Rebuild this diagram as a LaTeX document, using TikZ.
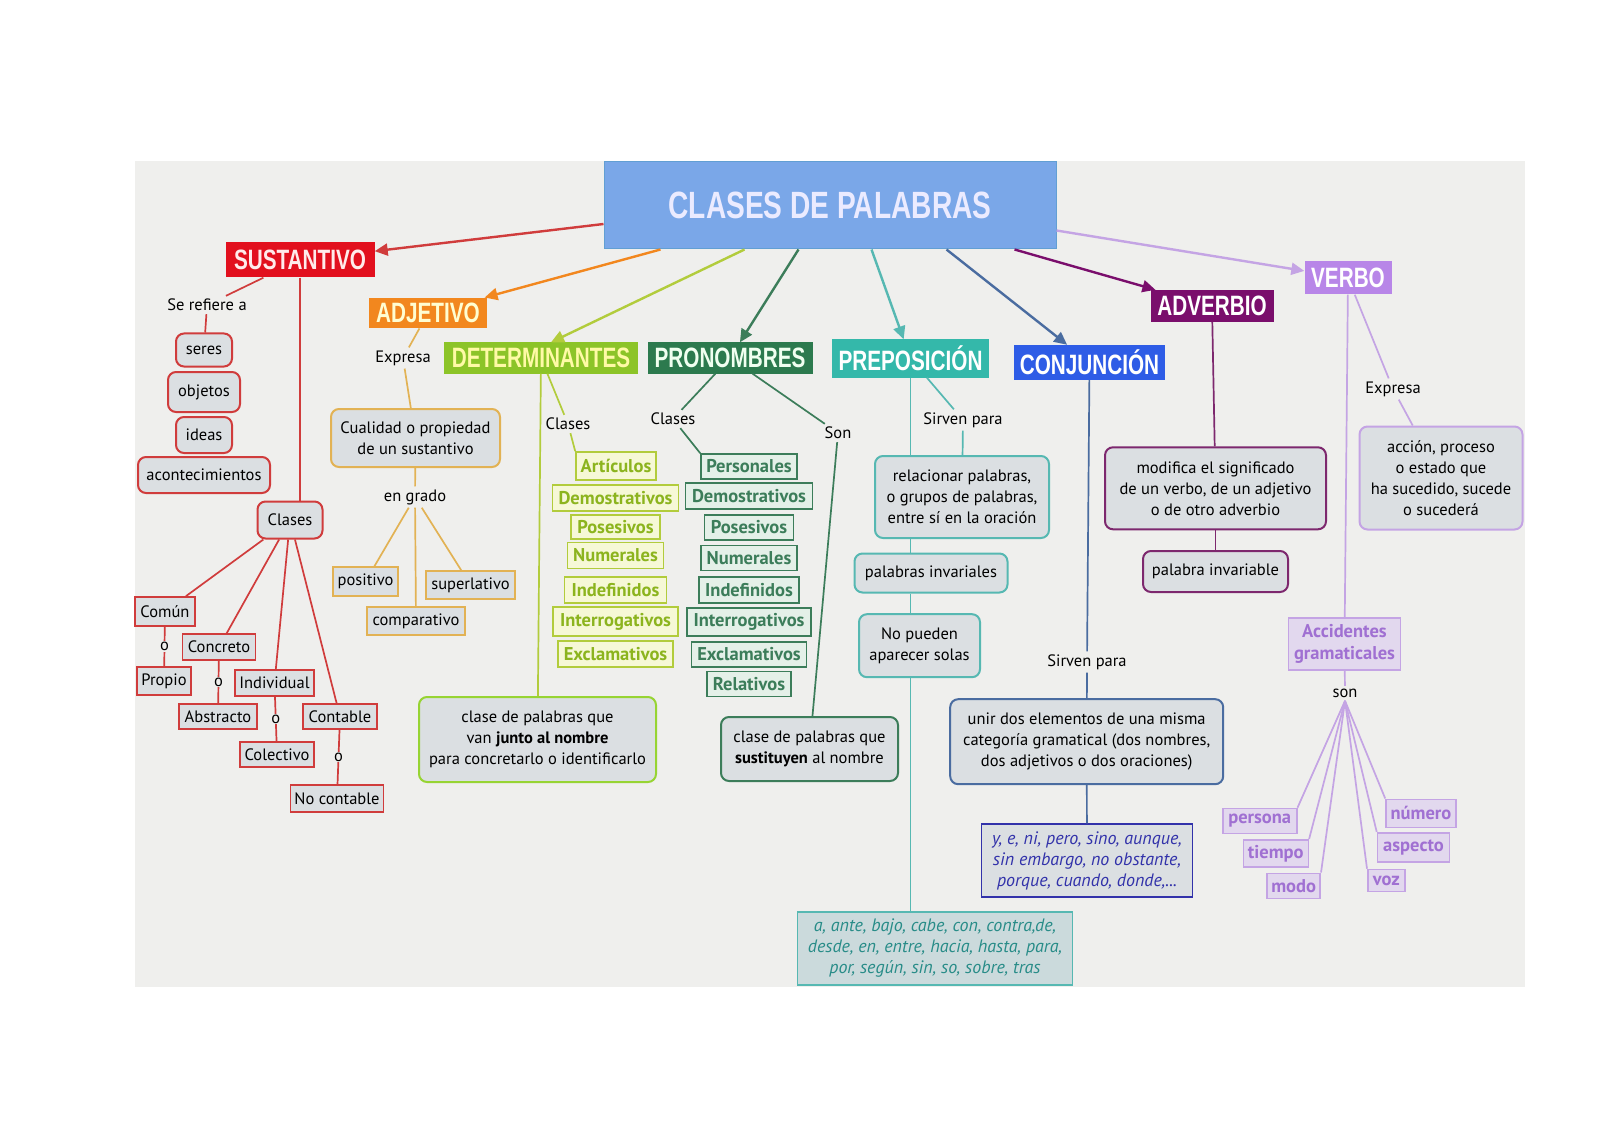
\documentclass[tikz,border=0pt]{standalone}
\usepackage{fontspec}
\setmainfont{PT Sans}
\newfontfamily\headfont[FakeStretch=0.74]{Liberation Sans}
\usetikzlibrary{arrows.meta}
\definecolor{bgpanel}{RGB}{239,239,237}
\definecolor{boxgray}{RGB}{219,223,226}
\definecolor{titleblue}{RGB}{122,167,232}
\definecolor{sustred}{RGB}{226,16,30}
\definecolor{sustline}{RGB}{208,60,60}
\definecolor{adjorange}{RGB}{242,135,30}
\definecolor{adjline}{RGB}{226,178,84}
\definecolor{detgreen}{RGB}{140,196,40}
\definecolor{detline}{RGB}{178,204,60}
\definecolor{detleaf}{RGB}{246,248,214}
\definecolor{dettext}{RGB}{140,180,30}
\definecolor{progreen}{RGB}{44,122,78}
\definecolor{proline}{RGB}{60,125,90}
\definecolor{proleaf}{RGB}{228,240,232}
\definecolor{preteal}{RGB}{52,184,170}
\definecolor{preline}{RGB}{86,184,178}
\definecolor{pretext}{RGB}{40,140,136}
\definecolor{conjblue}{RGB}{46,92,230}
\definecolor{conjline}{RGB}{74,108,160}
\definecolor{conjtext}{RGB}{50,50,170}
\definecolor{advpurple}{RGB}{122,14,108}
\definecolor{advline}{RGB}{125,40,110}
\definecolor{verblila}{RGB}{184,134,232}
\definecolor{verbline}{RGB}{196,164,228}
\definecolor{verbtext}{RGB}{160,112,210}
\definecolor{verbleaf}{RGB}{226,216,238}
\tikzset{every node/.append style={font=\fontsize{16.5}{21}\selectfont}}
\tikzset{
  sz/.style 2 args={minimum width=#1pt, minimum height=#2pt},
  cat/.style={fill=#1, text=white, inner xsep=6pt, inner ysep=0pt,
    font=\headfont\bfseries\fontsize{28}{30}\selectfont},
  bubble/.style={draw=#1, fill=boxgray, line width=2pt, rounded corners=8pt,
    align=center, inner sep=2pt},
  tag/.style={draw=#1, fill=boxgray, line width=1.6pt, inner sep=2pt},
  kind/.style={draw=#1, line width=1.6pt, inner sep=2pt,
    font=\fontsize{18.5}{22}\selectfont\bfseries},
  list/.style={draw=#1, text=#1, line width=1.6pt, inner sep=2pt, align=center,
    font=\fontsize{18}{21}\selectfont\itshape},
  lbl/.style={inner sep=3pt},
  link/.style={draw=#1, line width=1.7pt},
  arr/.style={draw=#1, line width=2.4pt, -{Triangle[length=13pt,width=12pt]}},
  orl/.style={fill=bgpanel, inner sep=1pt}
}

\begin{document}
\begin{tikzpicture}[x=1pt,y=-1pt]
  \useasboundingbox (0,0) rectangle (1600,1131);
  \fill[bgpanel] (135,161) rectangle (1525,987);

  \node[draw=titleblue!80!teal, fill=titleblue, line width=1pt, text=white!92!blue,
    sz={452}{87}, font=\headfont\bfseries\fontsize{38}{40}\selectfont] (title) at (830,205.5)
    {CLASES DE PALABRAS};

  \node[cat=sustred, text=red!8, sz={149}{35}] (sust) at (300,260) {SUSTANTIVO};
  \node[cat=adjorange, text=yellow!18, sz={118}{30.5}] (adj) at (428,313) {ADJETIVO};
  \node[cat=detgreen, text=yellow!35, sz={194}{31}] (det) at (541,358) {DETERMINANTES};
  \node[cat=progreen, text=green!6, sz={165}{31}] (pro) at (730,358) {PRONOMBRES};
  \node[cat=preteal, sz={157}{38}] (prep) at (910.5,358.5) {PREPOSICIÓN};
  \node[cat=conjblue, sz={151}{35}] (conj) at (1089.5,362.5) {CONJUNCIÓN};
  \node[cat=advpurple, sz={123}{32}] (adv) at (1212,306) {ADVERBIO};
  \node[cat=verblila, sz={87}{33}] (verbo) at (1348,278) {VERBO};

  \draw[arr=sustline] ([yshift=-62.5pt]title.north west) -- (sust);
  \draw[arr=adjorange] ([xshift=57pt]title.south west) -- (adj);
  \draw[arr=detline] ([xshift=141pt]title.south west) -- ([xshift=10pt]det.north);
  \draw[arr=proline] ([xshift=195pt]title.south west) -- (pro);
  \draw[arr=preline] ([xshift=268pt]title.south west) -- (prep);
  \draw[arr=conjline] ([xshift=343pt]title.south west) -- (conj);
  \draw[arr=advpurple] ([xshift=411pt]title.south west) -- (adv);
  \draw[arr=verbline] ([yshift=-69pt]title.north east) -- (verbo);

  \node[lbl] (refiere) at (207,305) {Se refiere a};
  \node[bubble=sustline, sz={56}{33}] (seres) at (204,350) {seres};
  \node[bubble=sustline, sz={72}{40}] (objetos) at (204,392) {objetos};
  \node[bubble=sustline, sz={56}{36}] (ideas) at (204,435) {ideas};
  \node[bubble=sustline, sz={132}{36}] (aconte) at (204,475) {acontecimientos};
  \node[bubble=sustline, sz={65}{37}] (sclases) at (290,520) {Clases};
  \node[tag=sustline, sz={60}{29}] (comun) at (165,611.5) {Común};
  \node[tag=sustline, sz={73}{26}] (concreto) at (219,647) {Concreto};
  \node[tag=sustline, sz={79}{26}] (individual) at (274.5,683) {Individual};
  \node[tag=sustline, sz={74}{25}] (contable) at (340,716.5) {Contable};
  \node[tag=sustline, sz={54}{28}] (propio) at (164,681) {Propio};
  \node[tag=sustline, sz={78}{25}] (abstracto) at (218,716.5) {Abstracto};
  \node[tag=sustline, sz={74}{25}] (colectivo) at (277,754.5) {Colectivo};
  \node[tag=sustline, sz={93}{27}] (nocontable) at (337,798.5) {No contable};
  \draw[link=sustline] (sust) -- (refiere);
  \draw[link=sustline] (refiere) -- (seres);
  \draw[link=sustline] (sust) -- (sust |- sclases.north);
  \foreach \k in {comun,concreto,individual,contable}
    \draw[link=sustline] (sclases) -- (\k);
  \draw[link=sustline] (comun) -- node[orl]{o} (propio);
  \draw[link=sustline] (concreto) -- node[orl]{o} (abstracto);
  \draw[link=sustline] (individual) -- node[orl]{o} (colectivo);
  \draw[link=sustline] (contable) -- node[orl]{o} (nocontable);

  \node[lbl] (adjexp) at (403,358) {Expresa};
  \node[bubble=adjline, sz={169}{58}] (cualidad) at (415.5,438)
    {Cualidad o propiedad\\de un sustantivo};
  \node[lbl] (grado) at (415,497) {en grado};
  \node[tag=adjline, sz={65}{29}] (positivo) at (365.5,581.5) {positivo};
  \node[tag=adjline, sz={89}{28}] (superlativo) at (470.5,585) {superlativo};
  \node[tag=adjline, sz={98}{28}] (comparativo) at (416,621) {comparativo};
  \draw[link=adjline] (adj) -- (adjexp);
  \draw[link=adjline] (adjexp) -- (cualidad);
  \draw[link=adjline] (cualidad) -- (grado);
  \foreach \k in {positivo,comparativo,superlativo}
    \draw[link=adjline] (grado) -- (\k);

  \node[lbl] (detclases) at (568,424) {Clases};
  \node[kind=detline, fill=detleaf, text=dettext, sz={80}{28}] (dart) at (616,466) {Artículos};
  \node[kind=detline, fill=detleaf, text=dettext, sz={126}{26}] (ddem) at (615.5,498) {Demostrativos};
  \node[kind=detline, fill=detleaf, text=dettext, sz={89}{24}] (dpos) at (615.5,527) {Posesivos};
  \node[kind=detline, fill=detleaf, text=dettext, sz={96}{26}] (dnum) at (615.5,555.5) {Numerales};
  \node[kind=detline, fill=detleaf, text=dettext, sz={102}{26}] (dind) at (615.5,590) {Indefinidos};
  \node[kind=detline, fill=detleaf, text=dettext, sz={125}{29}] (dint) at (615.5,621.5) {Interrogativos};
  \node[kind=detline, fill=detleaf, text=dettext, sz={115}{26}] (dexc) at (615.5,654) {Exclamativos};
  \node[bubble=detline!85!green, sz={237}{85}] (junto) at (537.5,739.5)
    {clase de palabras que\\van \textbf{junto al nombre}\\para concretarlo o identificarlo};
  \draw[link=detline] (det) -- (detclases);
  \draw[link=detline] (detclases) -- (dart.north west);
  \draw[link=detline] (det) -- (junto);

  \node[lbl] (proclases) at (673,419) {Clases};
  \node[lbl] (proson) at (838,433) {Son};
  \node[kind=proline, fill=proleaf, text=proline, sz={96}{25}] (pper) at (749,466.5) {Personales};
  \node[kind=proline, fill=proleaf, text=proline, sz={127}{26}] (pdem) at (749,496) {Demostrativos};
  \node[kind=proline, fill=proleaf, text=proline, sz={89}{25}] (ppos) at (749,527.5) {Posesivos};
  \node[kind=proline, fill=proleaf, text=proline, sz={96}{25}] (pnum) at (749,558) {Numerales};
  \node[kind=proline, fill=proleaf, text=proline, sz={100}{26}] (pind) at (749,590) {Indefinidos};
  \node[kind=proline, fill=proleaf, text=proline, sz={124}{28}] (pint) at (749,622) {Interrogativos};
  \node[kind=proline, fill=proleaf, text=proline, sz={115}{25}] (pexc) at (749,654.5) {Exclamativos};
  \node[kind=proline, fill=proleaf, text=proline, sz={84}{25}] (prel) at (749,684) {Relativos};
  \node[bubble=proline, sz={177}{64}] (sustituyen) at (809.5,749)
    {clase de palabras que\\\textbf{sustituyen} al nombre};
  \draw[link=proline] (pro) -- (proclases);
  \draw[link=proline] (proclases) -- (pper.north west);
  \draw[link=proline] (pro) -- (proson);
  \draw[link=proline] (proson) -- (sustituyen);

  \node[lbl] (presirven) at (963,420) {Sirven para};
  \node[bubble=preline, sz={174}{82}] (relacionar) at (962,497)
    {relacionar palabras,\\o grupos de palabras,\\entre sí en la oración};
  \node[bubble=preline, sz={153}{39}] (invariales) at (931,573) {palabras invariales};
  \node[bubble=preline, sz={121}{63}] (solas) at (919.5,645.7) {No pueden\\aparecer solas};
  \node[list=pretext, draw=preline, fill=preline!12!boxgray, sz={275}{73}]
    (preplist) at (935,948.3)
    {a, ante, bajo, cabe, con, contra,de,\\desde, en, entre, hacia, hasta, para,\\por, según, sin, so, sobre, tras};
  \draw[link=preline] (prep) -- (presirven);
  \draw[link=preline] (presirven) -- (relacionar);
  \draw[link=preline] (prep) -- (prep |- relacionar.north);
  \draw[link=preline] (prep |- relacionar.south) -- (prep |- invariales.north);
  \draw[link=preline] (prep |- invariales.south) -- (prep |- solas.north);
  \draw[link=preline] (prep |- solas.south) -- (prep |- preplist.north);

  \node[lbl] (conjsirven) at (1087,662) {Sirven para};
  \node[bubble=conjline, sz={273}{85}] (unir) at (1086.7,741.7)
    {unir dos elementos de una misma\\categoría gramatical (dos nombres,\\dos adjetivos o dos oraciones)};
  \node[list=conjtext, fill=boxgray, sz={211}{73}] (conjlist) at (1087,860.7)
    {y, e, ni, pero, sino, aunque,\\sin embargo, no obstante,\\porque, cuando, donde,...};
  \draw[link=conjline] (conj) -- (conjsirven);
  \draw[link=conjline] (conjsirven) -- (unir);
  \draw[link=conjline] (unir) -- (conjlist);

  \node[bubble=advline, sz={221}{82}] (modifica) at (1215.5,488.3)
    {modifica el significado\\de un verbo, de un adjetivo\\o de otro adverbio};
  \node[bubble=advline, sz={145}{41}] (invariable) at (1215.5,571.5) {palabra invariable};
  \draw[link=advline] (adv) -- (modifica);
  \draw[link=advline] (modifica) -- (invariable);

  \node[lbl] (verbexp) at (1393,389) {Expresa};
  \node[bubble=verbline, sz={163}{103}] (accion) at (1441,478)
    {acción, proceso\\o estado que\\ha sucedido, sucede\\o sucederá};
  \node[kind=verbline, fill=verbleaf, text=verbtext, align=center, sz={112}{52}]
    (accidentes) at (1344.5,644) {Accidentes\\gramaticales};
  \node[lbl] (verbson) at (1345,693.3) {son};
  \node[kind=verbline, fill=verbleaf, text=verbtext, sz={74}{25}] (persona) at (1259.7,821) {persona};
  \node[kind=verbline, fill=verbleaf, text=verbtext, sz={65}{27}] (tiempo) at (1275.8,853.3) {tiempo};
  \node[kind=verbline, fill=verbleaf, text=verbtext, sz={53}{25}] (modo) at (1293.7,885.8) {modo};
  \node[kind=verbline, fill=verbleaf, text=verbtext, sz={70}{28}] (numero) at (1421,813.3) {número};
  \node[kind=verbline, fill=verbleaf, text=verbtext, sz={72}{29}] (aspecto) at (1413.5,847.2) {aspecto};
  \node[kind=verbline, fill=verbleaf, text=verbtext, sz={37}{22}] (voz) at (1386.3,880.5) {voz};
  \draw[link=verbline] (verbo) -- (accidentes);
  \draw[link=verbline] (verbo) -- (verbexp);
  \draw[link=verbline] (verbexp) -- (accion);
  \draw[link=verbline] (accidentes) -- (verbson);
  \foreach \k in {persona,tiempo,modo}
    \draw[link=verbline] (verbson.south) -- (\k.north east);
  \foreach \k in {numero,aspecto,voz}
    \draw[link=verbline] (verbson.south) -- (\k.north west);
\end{tikzpicture}
\end{document}
